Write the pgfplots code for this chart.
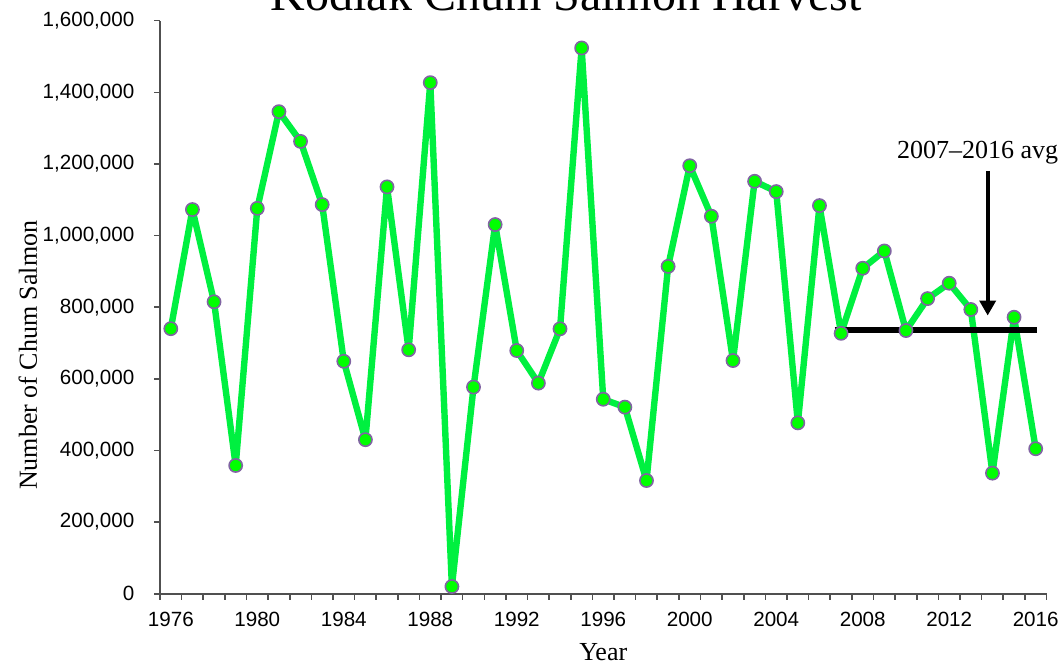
\documentclass[border=0pt]{standalone}
\usepackage{fontspec}
\setmainfont{Liberation Serif}
\newfontfamily\arial{Liberation Sans}
\usepackage{pgfplots}
\pgfplotsset{compat=1.18}
\usetikzlibrary{arrows.meta}

\definecolor{linegreen}{RGB}{0,240,64}
\definecolor{markgreen}{RGB}{0,255,0}
\definecolor{markpurple}{RGB}{128,100,162}
\definecolor{axisgray}{RGB}{80,80,80}

\begin{document}
\begin{tikzpicture}
\begin{axis}[
  name=ax,
  scale only axis,
  width=443.25pt, height=286.5pt,
  xmin=1975.5, xmax=2016.5,
  ymin=0, ymax=1600000,
  clip=false,
  axis x line*=bottom, axis y line*=left,
  axis line style={axisgray, line width=0.8pt},
  xtick={1976,1980,...,2016},
  minor xtick={1975.5,1976.5,...,2016.5},
  ytick={0,200000,...,1600000},
  tick align=outside,
  major tick length=3pt,
  minor tick length=3pt,
  tick style={axisgray, line width=0.8pt},
  major x tick style={draw=none},
  scaled y ticks=false,
  /pgf/number format/assume math mode=true,
  tick label style={font=\arial\fontsize{10.3}{12}\selectfont},
  x tick label style={/pgf/number format/1000 sep={}, yshift=-2.8pt},
  y tick label style={/pgf/number format/.cd, fixed, precision=0, 1000 sep={,}, /tikz/.cd, xshift=-6.3pt},
]
\addplot[linegreen, line width=3.2pt, line join=round, mark=*, mark size=3.3pt,
  mark options={fill=markgreen, draw=markpurple, line width=0.8pt}] coordinates {
(1976,740000) (1977,1072600) (1978,815000) (1979,358000) (1980,1076000)
(1981,1346000) (1982,1263000) (1983,1086500) (1984,649000) (1985,430000)
(1986,1136000) (1987,681000) (1988,1427000) (1989,20000) (1990,577000)
(1991,1030700) (1992,679000) (1993,588000) (1994,739600) (1995,1523800)
(1996,543000) (1997,521000) (1998,316000) (1999,914000) (2000,1195000)
(2001,1054000) (2002,651000) (2003,1151600) (2004,1122800) (2005,477000)
(2006,1083700) (2007,727000) (2008,908800) (2009,957000) (2010,734800)
(2011,824000) (2012,867000) (2013,793500) (2014,336600) (2015,772000)
(2016,404700)
};
\addplot[black, line width=3.2pt] coordinates {(2006.7,737000) (2016.05,737000)};
\draw[-{Triangle[width=8pt,length=7.5pt]}, line width=2pt, black] (axis cs:2013.78,1181000) -- (axis cs:2013.78,776700);
\node[anchor=base, font=\fontsize{13}{15}\selectfont] at (axis cs:2013.31,1214900) {2007--2016 avg};
\end{axis}
\node[anchor=base, font=\fontsize{24}{28}\selectfont] at ([xshift=203pt, yshift=5.2pt]ax.north west) {Kodiak Chum Salmon Harvest};
\node[rotate=90, anchor=base, font=\fontsize{13}{15}\selectfont] at ([xshift=-61.5pt, yshift=119.2pt]ax.south west) {Number of Chum Salmon};
\node[anchor=base, font=\fontsize{13}{15}\selectfont] at ([yshift=-33.35pt]ax.south) {Year};
\pgfresetboundingbox
\useasboundingbox ([shift={(-80pt,-34.85pt)}]ax.south west) rectangle ([shift={(7.75pt,10.35pt)}]ax.north east);
\end{tikzpicture}
\end{document}
